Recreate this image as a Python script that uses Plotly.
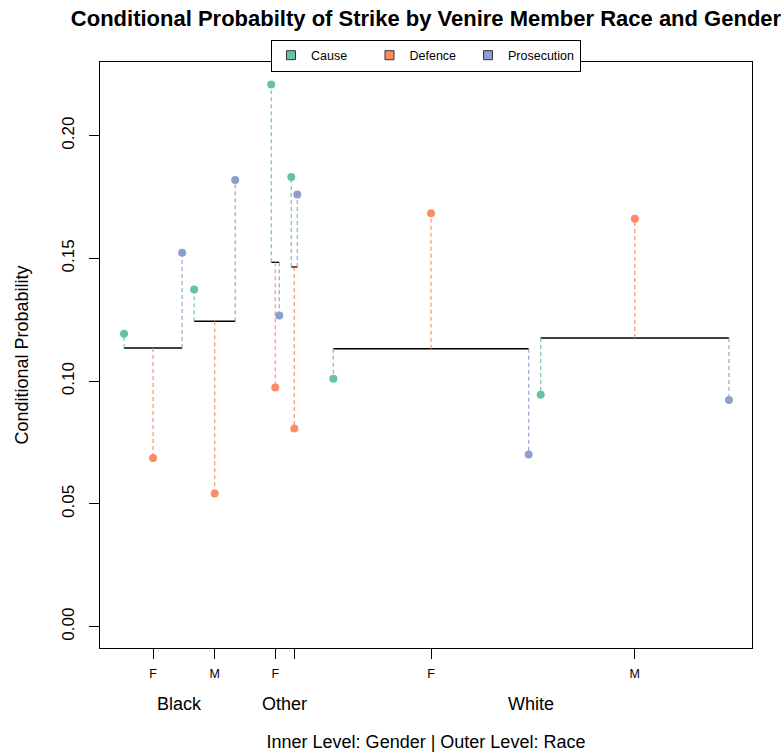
import plotly.graph_objects as go

# ---- data ----
races = ["Black", "Black", "Other", "Other", "White", "White"]
genders = ["F", "M", "F", "M", "F", "M"]
gender_tick_text = ["F", "M", "F", "", "F", "M"]
group_size = [58, 41, 8, 6, 195, 188]          # relative widths of the groups
overall = [0.1135, 0.1244, 0.1484, 0.1465, 0.1132, 0.1176]
cause = [0.1193, 0.1373, 0.2208, 0.1832, 0.1010, 0.0945]
defence = [0.0687, 0.0542, 0.0974, 0.0807, 0.1684, 0.1662]
prosecution = [0.1523, 0.1819, 0.1267, 0.1760, 0.0701, 0.0923]
series_names = ["Cause", "Defence", "Prosecution"]
series_values = [cause, defence, prosecution]
colors = ["#66C2A5", "#FC8D62", "#8DA0CB"]
legend_pad = [5, 2, 0]   # trailing spaces so the legend keys are evenly spaced

# ---- layout of groups along x ----
LEFT_PAD, RIGHT_PAD, INNER_GAP, OUTER_GAP = 24, 23, 12, 36
starts, ends = [], []
pos = LEFT_PAD
for i, w in enumerate(group_size):
    if i > 0:
        pos += OUTER_GAP if races[i] != races[i - 1] else INNER_GAP
    starts.append(pos)
    ends.append(pos + w)
    pos += w
x_max = pos + RIGHT_PAD
mids = [(s + e) / 2 for s, e in zip(starts, ends)]
series_x = [starts, mids, ends]

FONT = "Liberation Sans, Arial, Helvetica, sans-serif"
fig = go.Figure()

# overall horizontal lines
hx, hy = [], []
for s, e, o in zip(starts, ends, overall):
    hx += [s, e, None]
    hy += [o, o, None]
fig.add_trace(go.Scatter(x=hx, y=hy, mode="lines", line=dict(color="black", width=1.4),
                         showlegend=False, hoverinfo="skip"))

for name, vals, xs, col, pad in zip(series_names, series_values, series_x, colors, legend_pad):
    vx, vy = [], []
    for x, o, v in zip(xs, overall, vals):
        vx += [x, x, None]
        vy += [o, v, None]
    fig.add_trace(go.Scatter(x=vx, y=vy, mode="lines",
                             line=dict(color=col, width=1.3, dash="4px,3px"),
                             opacity=0.85, showlegend=False, hoverinfo="skip",
                             legendgroup=name))
    fig.add_trace(go.Scatter(x=xs, y=vals, mode="markers",
                             marker=dict(color=col, size=8),
                             name=name, showlegend=False, legendgroup=name))
    # legend entry (square key)
    fig.add_trace(go.Scatter(x=[None], y=[None], mode="markers",
                             marker=dict(symbol="square", color=col, size=9,
                                         line=dict(color="#333333", width=1)),
                             name=name + "\u00a0" * pad, legendgroup=name, showlegend=True))

# race labels
race_order = []
for r in races:
    if r not in race_order:
        race_order.append(r)
for r in race_order:
    idx = [i for i, rr in enumerate(races) if rr == r]
    cx = (starts[idx[0]] + ends[idx[-1]]) / 2
    fig.add_annotation(x=cx, y=-0.095, xref="x", yref="paper", text=r, showarrow=False,
                       font=dict(family=FONT, size=18, color="black"), yanchor="middle")

fig.update_layout(
    width=783, height=753,
    margin=dict(l=100, r=31, t=62, b=105, autoexpand=False),
    paper_bgcolor="white", plot_bgcolor="white",
    font=dict(family=FONT, color="black"),
    title=dict(text="<b>Conditional Probabilty of Strike by Venire Member Race and Gender</b>",
               x=0.5, xref="paper", xanchor="center", y=1 - 18 / 753, yref="container",
               yanchor="middle", font=dict(family=FONT, size=22, color="black")),
    legend=dict(orientation="h", x=0.5, xanchor="center", y=1.011, yanchor="middle",
                bordercolor="black", borderwidth=1, bgcolor="white",
                font=dict(family=FONT, size=12.5, color="black"),
                itemclick=False),
    xaxis=dict(range=[0, x_max], showgrid=False, zeroline=False, automargin=False,
               showline=True, linecolor="black", linewidth=1, mirror=True,
               tickmode="array", tickvals=mids, ticktext=gender_tick_text,
               ticks="outside", ticklen=10, tickcolor="black",
               tickfont=dict(family=FONT, size=12.5, color="black"),
               ticklabelstandoff=4,
               title=dict(text="Inner Level: Gender | Outer Level: Race", standoff=55,
                          font=dict(family=FONT, size=18, color="black"))),
    yaxis=dict(range=[-0.0087, 0.2300], showgrid=False, zeroline=False, automargin=False,
               showline=True, linecolor="black", linewidth=1, mirror=True,
               tickmode="array", tickvals=[0, 0.05, 0.10, 0.15, 0.20],
               ticktext=["0.00", "0.05", "0.10", "0.15", "0.20"],
               ticks="outside", ticklen=10, tickcolor="black", tickangle=-90,
               tickfont=dict(family=FONT, size=17, color="black"),
               ticklabelstandoff=8,
               title=dict(text="Conditional Probability", standoff=25,
                          font=dict(family=FONT, size=18, color="black"))),
)

fig.write_html("out.html")
